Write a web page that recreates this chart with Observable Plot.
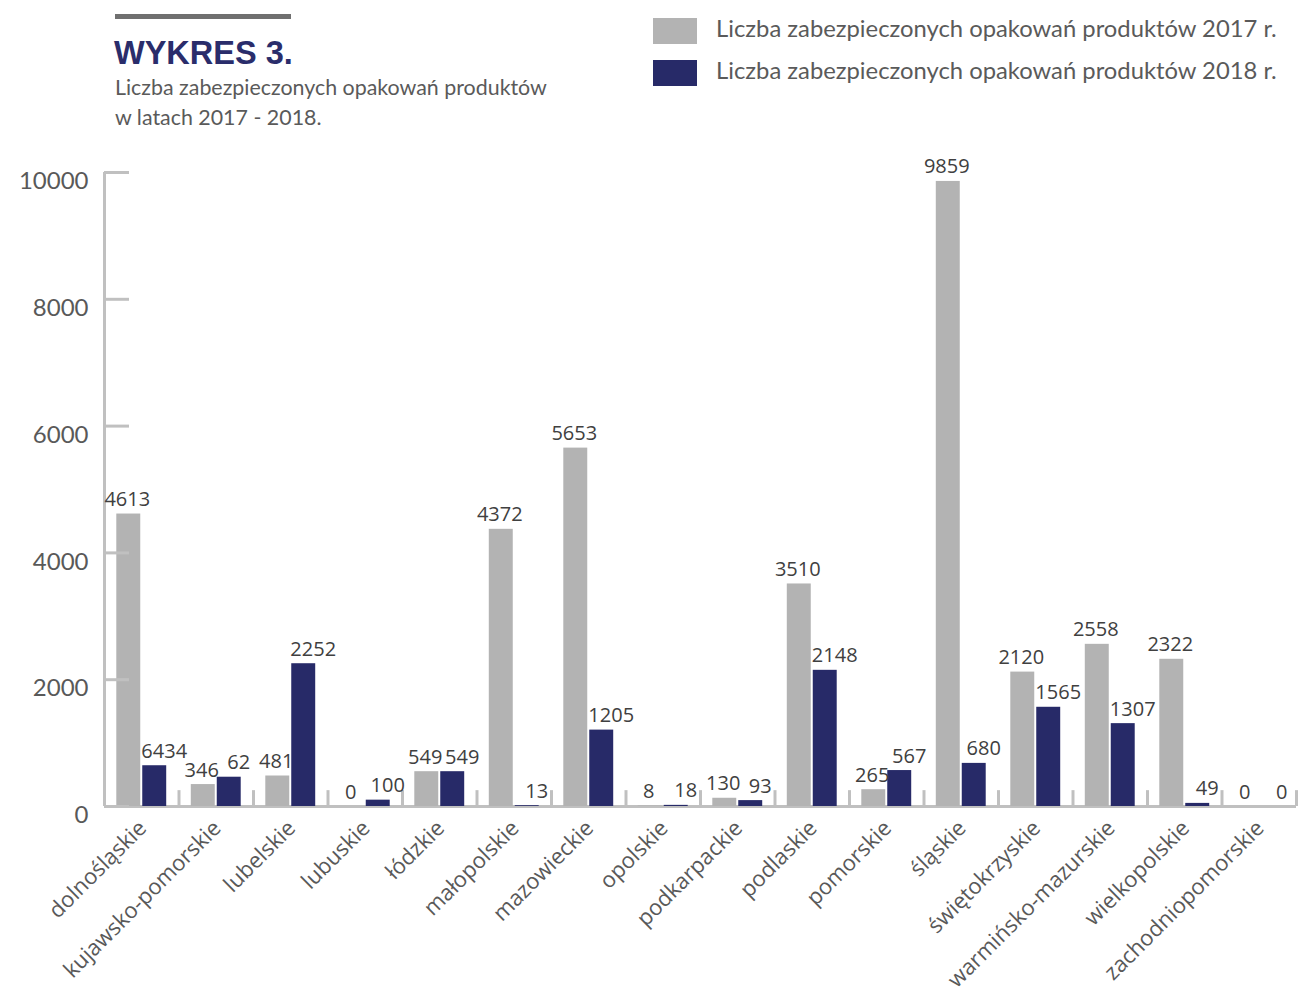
<!DOCTYPE html>
<html>
<head>
<meta charset="utf-8">
<script src="https://cdn.jsdelivr.net/npm/d3@7"></script>
<script src="https://cdn.jsdelivr.net/npm/@observablehq/plot@0.6"></script>
<style>
  body { margin: 0; background: #ffffff; }
  #wrap { position: relative; width: 1299px; height: 996px; overflow: hidden; }
  #header { position: relative; width: 1299px; height: 140px; }
  #topRule { position: absolute; left: 115px; top: 14px; width: 176px; height: 5px; background: #707070; }
  #title { position: absolute; left: 114px; top: 35px; font: bold 32.5px "Liberation Sans", Arial, sans-serif; color: #2a2d6b; line-height: 36px; }
  #subtitle { position: absolute; left: 115px; top: 72px; font: 21.4px Lato, sans-serif; color: #5a5a5a; line-height: 30px; }
  .leg { position: absolute; left: 653px; height: 26px; display: flex; align-items: center; }
  .sw { width: 44px; height: 26px; margin-right: 19px; }
  .lt { font: 23.8px Lato, sans-serif; color: #5a5a5a; white-space: nowrap; position: relative; top: -3px; }
  #chart { position: relative; }
</style>
</head>
<body>
<div id="wrap">
  <div id="header">
    <div id="topRule"></div>
    <div id="title">WYKRES 3.</div>
    <div id="subtitle">Liczba zabezpieczonych opakowań produktów<br>w latach 2017 - 2018.</div>
    <div class="leg" style="top:18px"><div class="sw" style="background:#b3b3b3"></div><div class="lt">Liczba zabezpieczonych opakowań produktów 2017 r.</div></div>
    <div class="leg" style="top:60px"><div class="sw" style="background:#272a68"></div><div class="lt">Liczba zabezpieczonych opakowań produktów 2018 r.</div></div>
  </div>
  <div id="chart"></div>
</div>
<script>
const regions = ["dolnośląskie","kujawsko-pomorskie","lubelskie","lubuskie","łódzkie","małopolskie","mazowieckie","opolskie","podkarpackie","podlaskie","pomorskie","śląskie","świętokrzyskie","warmińsko-mazurskie","wielkopolskie","zachodniopomorskie"];
const values2017 = [4613, 346, 481, 0, 549, 4372, 5653, 8, 130, 3510, 265, 9859, 2120, 2558, 2322, 0];
const values2018 = [643, 462, 2252, 100, 549, 13, 1205, 18, 93, 2148, 567, 680, 1565, 1307, 49, 0];
const labels2017 = ["4613","346","481","0","549","4372","5653","8","130","3510","265","9859","2120","2558","2322","0"];
const labels2018 = ["6434","62","2252","100","549","13","1205","18","93","2148","567","680","1565","1307","49","0"];
const yTicks = [0, 2000, 4000, 6000, 8000, 10000];

const color2017 = "#b3b3b3";
const color2018 = "#272a68";
const axisGray = "#c0c0c0";
const textGray = "#595959";

const data2017 = regions.map((r, i) => ({region: r, value: values2017[i], label: labels2017[i]}));
const data2018 = regions.map((r, i) => ({region: r, value: values2018[i], label: labels2018[i]}));

const W = 1299, H = 856, mL = 104, mR = 3, mT = 32, mB = 190;
const step = (W - mL - mR) / regions.length;
const pad = 0.33;
const bw = step * (1 - pad);
const half = bw / 2;

const chart = Plot.plot({
  width: W,
  height: H,
  marginLeft: mL,
  marginRight: mR,
  marginTop: mT,
  marginBottom: mB,
  style: {fontFamily: "'Open Sans', sans-serif", fontSize: "20px", color: "#404040", background: "#ffffff"},
  x: {domain: regions, paddingInner: pad, paddingOuter: pad / 2, align: 0.5, round: false, label: null},
  y: {domain: [0, 10000], label: null},
  marks: [
    // y axis line (left edge of first band)
    Plot.ruleX([regions[0]], {x: d => d, dx: -step / 2, y1: 0, y2: 10000, stroke: axisGray, strokeWidth: 3}),
    // category separators
    Plot.ruleX(regions.slice(1), {x: d => d, dx: -step / 2, y1: 0, y2: 250, stroke: axisGray, strokeWidth: 3}),
    Plot.ruleX([regions[regions.length - 1]], {x: d => d, dx: step / 2, y1: 0, y2: 250, stroke: axisGray, strokeWidth: 3}),
    // baseline
    Plot.ruleY([0], {stroke: axisGray, strokeWidth: 3}),
    // bars
    Plot.barY(data2017, {x: "region", y: "value", fill: color2017, insetRight: half + 1}),
    Plot.barY(data2018, {x: "region", y: "value", fill: color2018, insetLeft: half + 1}),
    // value labels
    Plot.text(data2017, {x: "region", y: "value", text: "label", dx: -half / 2 - 2, dy: -8, lineAnchor: "bottom", fill: "#404040", fontSize: 20}),
    Plot.text(data2018, {x: "region", y: "value", text: "label", dx: half / 2 + 10, dy: -8, lineAnchor: "bottom", fill: "#404040", fontSize: 20}),
    // y axis ticks (pointing right)
    Plot.axisY(yTicks, {tickSize: -25, stroke: axisGray, strokeWidth: 3, fill: "none", label: null}),
    // y axis labels
    Plot.axisY(yTicks, {tickSize: 0, tickPadding: 16, dy: 9, stroke: "none", fill: textGray, fontSize: 24, fontFamily: "Lato, sans-serif", tickFormat: d => String(d), label: null}),
    // x axis labels
    Plot.axisX({tickSize: 0, tickRotate: -45, tickPadding: 18, fill: textGray, fontSize: 22, fontFamily: "'Open Sans', sans-serif", dx: 1, label: null})
  ]
});
document.getElementById("chart").appendChild(chart);
</script>
</body>
</html>
